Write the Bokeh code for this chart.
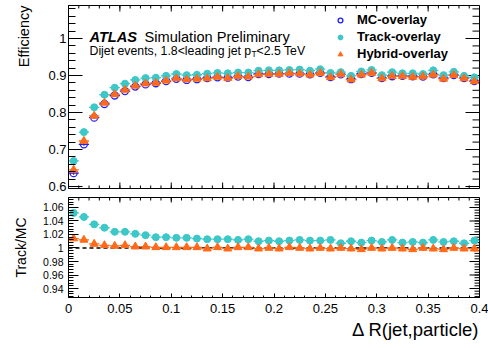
import math
from bokeh.plotting import figure
from bokeh.models import (Range1d, FixedTicker, LinearAxis, CustomJSTickFormatter, Label,
                          Legend, LegendItem, Span, ColumnDataSource, Title)
from bokeh.layouts import column
from bokeh.core.properties import value
from bokeh.embed import file_html
from bokeh.resources import INLINE

# ---------------- data ----------------
bin_centers = [0.005, 0.015, 0.025, 0.035, 0.045, 0.055, 0.065, 0.075, 0.085, 0.095,
               0.105, 0.115, 0.125, 0.135, 0.145, 0.155, 0.165, 0.175, 0.185, 0.195,
               0.205, 0.215, 0.225, 0.235, 0.245, 0.255, 0.265, 0.275, 0.285, 0.295,
               0.305, 0.315, 0.325, 0.335, 0.345, 0.355, 0.365, 0.375, 0.385, 0.395]
bin_half_width = 0.005

mc_eff = [0.636, 0.714, 0.786, 0.823, 0.846, 0.858, 0.870, 0.876, 0.879, 0.885,
          0.891, 0.888, 0.890, 0.893, 0.895, 0.894, 0.897, 0.896, 0.904, 0.904,
          0.905, 0.905, 0.905, 0.903, 0.907, 0.896, 0.903, 0.890, 0.904, 0.907,
          0.893, 0.898, 0.899, 0.898, 0.897, 0.903, 0.893, 0.901, 0.893, 0.885]
track_eff = [0.669, 0.747, 0.814, 0.848, 0.867, 0.878, 0.888, 0.893, 0.894, 0.899,
             0.904, 0.901, 0.902, 0.905, 0.907, 0.906, 0.908, 0.908, 0.913, 0.914,
             0.914, 0.915, 0.916, 0.913, 0.917, 0.907, 0.909, 0.899, 0.911, 0.915,
             0.901, 0.909, 0.906, 0.906, 0.904, 0.914, 0.901, 0.910, 0.899, 0.895]
hybrid_eff = [0.645, 0.723, 0.791, 0.826, 0.849, 0.861, 0.872, 0.878, 0.880, 0.886,
              0.892, 0.889, 0.891, 0.892, 0.896, 0.893, 0.898, 0.897, 0.903, 0.904,
              0.904, 0.906, 0.905, 0.902, 0.907, 0.895, 0.903, 0.889, 0.902, 0.907,
              0.892, 0.898, 0.898, 0.896, 0.897, 0.902, 0.891, 0.901, 0.892, 0.884]
eff_err = [0.004, 0.004, 0.003, 0.003, 0.003, 0.003, 0.003, 0.003, 0.003, 0.003,
           0.003, 0.003, 0.003, 0.003, 0.003, 0.003, 0.003, 0.003, 0.003, 0.003,
           0.003, 0.003, 0.003, 0.003, 0.003, 0.003, 0.003, 0.003, 0.003, 0.003,
           0.003, 0.003, 0.003, 0.003, 0.003, 0.003, 0.003, 0.003, 0.003, 0.003]

ratio_track = [1.052, 1.046, 1.035, 1.030, 1.024, 1.024, 1.021, 1.019, 1.016, 1.016,
               1.015, 1.015, 1.014, 1.013, 1.013, 1.013, 1.012, 1.013, 1.010, 1.011,
               1.010, 1.011, 1.012, 1.011, 1.011, 1.012, 1.007, 1.010, 1.008, 1.011,
               1.009, 1.012, 1.008, 1.009, 1.008, 1.012, 1.009, 1.010, 1.007, 1.011]
ratio_track_err = [0.002, 0.002, 0.002, 0.002, 0.002, 0.002, 0.002, 0.002, 0.002, 0.002,
                   0.002, 0.002, 0.002, 0.002, 0.002, 0.002, 0.002, 0.003, 0.003, 0.003,
                   0.003, 0.003, 0.003, 0.003, 0.003, 0.003, 0.003, 0.003, 0.003, 0.003,
                   0.003, 0.004, 0.004, 0.004, 0.004, 0.004, 0.004, 0.004, 0.004, 0.004]
ratio_hybrid = [1.014, 1.012, 1.006, 1.004, 1.003, 1.004, 1.002, 1.002, 1.001, 1.001,
                1.001, 1.001, 1.001, 0.999, 1.001, 0.999, 1.001, 1.001, 0.999, 1.000,
                0.999, 1.001, 1.000, 0.999, 1.000, 0.999, 1.000, 0.999, 0.998, 1.000,
                0.999, 1.000, 0.999, 0.998, 1.000, 0.999, 0.998, 1.000, 0.999, 0.999]
ratio_hybrid_err = [0.003, 0.003, 0.003, 0.003, 0.003, 0.003, 0.003, 0.003, 0.003, 0.003,
                    0.003, 0.003, 0.003, 0.003, 0.003, 0.003, 0.003, 0.003, 0.003, 0.003,
                    0.004, 0.004, 0.004, 0.004, 0.004, 0.004, 0.004, 0.004, 0.004, 0.004,
                    0.004, 0.004, 0.004, 0.004, 0.004, 0.004, 0.004, 0.004, 0.004, 0.005]

x_ticks = [0, 0.05, 0.1, 0.15, 0.2, 0.25, 0.3, 0.35, 0.4]
x_minor = [round(0.01 * i, 3) for i in range(41)]
top_y_ticks = [0.6, 0.7, 0.8, 0.9, 1.0]
top_y_minor = [round(0.58 + 0.02 * i, 3) for i in range(27)]
bot_y_ticks = [0.94, 0.96, 0.98, 1.0, 1.02, 1.04, 1.06]
bot_y_minor = [round(0.924 + 0.004 * i, 4) for i in range(40)]

MC_COLOR = "#1f1fff"
TRACK_COLOR = "#3cc8c8"
HYBRID_COLOR = "#ff6a1a"
FONT = "Liberation Sans"

X0, XR = 0.0, 0.4
TOP_Y = (0.5946, 1.0892)
BOT_Y = (0.92667, 1.07481)
XPX = 411 / 0.4          # pixels per x unit
TOP_PX = 370.0           # pixels per y unit, top panel
BOT_PX = 675.0           # pixels per y unit, ratio panel


def tx(px):
    return (px - 68) / XPX


def ty1(py):
    return TOP_Y[0] + (188 - py) / TOP_PX


fmt = "return tick.toString();"


def style_axis(ax, tin, tmin, size, standoff):
    ax.major_tick_in = tin
    ax.major_tick_out = 0
    ax.minor_tick_in = tmin
    ax.minor_tick_out = 0
    ax.axis_line_color = "black"
    ax.major_tick_line_color = "black"
    ax.minor_tick_line_color = "black"
    ax.major_label_text_font = FONT
    ax.major_label_text_color = "black"
    ax.major_label_text_font_size = size
    ax.major_label_standoff = standoff


def tick_marks(p, ticks, minor, orient, edge, length, mlength, px_per_unit):
    """Inward tick marks on the right ('right') or the top/bottom ('top'/'bottom') edges."""
    for tlist, L in ((ticks, length), (minor, mlength)):
        d = L / px_per_unit
        if orient == "right":
            src = dict(x0=[edge - d] * len(tlist), x1=[edge] * len(tlist), y0=tlist, y1=tlist)
        elif orient == "top":
            src = dict(x0=tlist, x1=tlist, y0=[edge - d] * len(tlist), y1=[edge] * len(tlist))
        else:
            src = dict(x0=tlist, x1=tlist, y0=[edge] * len(tlist), y1=[edge + d] * len(tlist))
        p.segment(x0="x0", y0="y0", x1="x1", y1="y1", source=ColumnDataSource(src),
                  line_color="black", line_width=1)


def err_sources(y, err):
    h = ColumnDataSource(dict(x0=[x - bin_half_width for x in bin_centers],
                              x1=[x + bin_half_width for x in bin_centers],
                              y=y))
    v = ColumnDataSource(dict(x=bin_centers,
                              y0=[a - e for a, e in zip(y, err)],
                              y1=[a + e for a, e in zip(y, err)]))
    return h, v


def draw_series(p, y, err, color, marker, filled):
    h, v = err_sources(y, err)
    p.segment(x0="x0", y0="y", x1="x1", y1="y", source=h, line_color=color, line_width=1.3)
    p.segment(x0="x", y0="y0", x1="x", y1="y1", source=v, line_color=color, line_width=1.3)
    if filled:
        r = p.scatter(bin_centers, y, marker=marker, size=8 if marker == "triangle" else 7,
                      fill_color=color, line_color=color, line_width=1)
    else:
        r = p.scatter(bin_centers, y, marker=marker, size=7, fill_color=None,
                      line_color=color, line_width=1.3)
    return r


# ---------------- top panel ----------------
p1 = figure(frame_width=411, frame_height=183, x_range=Range1d(X0, XR),
            y_range=Range1d(*TOP_Y), x_axis_type=None, y_axis_type=None,
            output_backend="svg", toolbar_location=None, title=None,
            min_border_left=68, min_border_right=9, min_border_top=5, min_border_bottom=7)
p1.outline_line_color = "black"
p1.background_fill_color = "white"

ax1 = LinearAxis(ticker=FixedTicker(ticks=top_y_ticks, minor_ticks=top_y_minor),
                 formatter=CustomJSTickFormatter(code=fmt))
style_axis(ax1, 14, 7, "13px", 2)
p1.add_layout(ax1, "left")
p1.add_layout(Title(text="Efficiency", align="right", vertical_align="top", text_font=FONT,
                    text_font_size="14.5px", text_font_style="normal", text_color="black",
                    standoff=23), "left")

tick_marks(p1, top_y_ticks, top_y_minor, "right", XR, 14, 7, XPX)
tick_marks(p1, x_ticks, x_minor, "top", TOP_Y[1], 6, 3, TOP_PX)
tick_marks(p1, x_ticks, x_minor, "bottom", TOP_Y[0], 6, 3, TOP_PX)

r_mc = draw_series(p1, mc_eff, eff_err, MC_COLOR, "circle", False)
r_tr = draw_series(p1, track_eff, eff_err, TRACK_COLOR, "circle", True)
r_hy = draw_series(p1, hybrid_eff, eff_err, HYBRID_COLOR, "triangle", True)

legend = Legend(items=[LegendItem(label=value("MC-overlay"), renderers=[r_mc]),
                       LegendItem(label=value("Track-overlay"), renderers=[r_tr]),
                       LegendItem(label=value("Hybrid-overlay"), renderers=[r_hy])],
                location=(266, 127), orientation="vertical",
                border_line_alpha=0, background_fill_alpha=0, padding=0, margin=0,
                spacing=2, label_height=14, glyph_height=14, glyph_width=12,
                label_standoff=11, label_text_font=FONT, label_text_font_style="bold",
                label_text_font_size="13px", label_text_color="black")
p1.add_layout(legend)

p1.add_layout(Label(x=tx(89), y=ty1(36), text="ATLAS", text_font=FONT,
                    text_font_style="bold italic", text_font_size="14.6px",
                    text_baseline="alphabetic", text_color="black"))
p1.add_layout(Label(x=tx(144), y=ty1(36), text="Simulation Preliminary", text_font=FONT,
                    text_font_size="14.6px", text_baseline="alphabetic", text_color="black"))
p1.add_layout(Label(x=tx(89), y=ty1(50), text="Dijet events, 1.8<leading jet p",
                    text_font=FONT, text_font_size="12.3px", text_baseline="alphabetic",
                    text_color="black"))
p1.add_layout(Label(x=tx(251), y=ty1(53), text="T", text_font=FONT, text_font_size="8.5px",
                    text_baseline="alphabetic", text_color="black"))
p1.add_layout(Label(x=tx(256), y=ty1(50), text="<2.5 TeV", text_font=FONT,
                    text_font_size="12.3px", text_baseline="alphabetic", text_color="black"))

# ---------------- ratio panel ----------------
p2 = figure(frame_width=411, frame_height=100, x_range=p1.x_range,
            y_range=Range1d(*BOT_Y), x_axis_type=None, y_axis_type=None,
            output_backend="svg", toolbar_location=None, title=None,
            min_border_left=68, min_border_right=9, min_border_top=2, min_border_bottom=48)
p2.outline_line_color = "black"

ax2y = LinearAxis(ticker=FixedTicker(ticks=bot_y_ticks, minor_ticks=bot_y_minor),
                  formatter=CustomJSTickFormatter(code=fmt))
style_axis(ax2y, 10, 5, "10.5px", 5)
p2.add_layout(ax2y, "left")
p2.add_layout(Title(text="Track/MC", align="center", vertical_align="top", text_font=FONT,
                    text_font_size="14px", text_font_style="normal", text_color="black",
                    standoff=19), "left")

ax2x = LinearAxis(ticker=FixedTicker(ticks=x_ticks, minor_ticks=x_minor),
                  formatter=CustomJSTickFormatter(code=fmt))
style_axis(ax2x, 4, 2, "13px", 6)
p2.add_layout(ax2x, "below")
p2.add_layout(Title(text="\u0394 R(jet,particle)", align="right", text_font=FONT,
                    text_font_size="18.5px", text_font_style="normal", text_color="black",
                    standoff=2), "below")

tick_marks(p2, bot_y_ticks, bot_y_minor, "right", XR, 10, 5, XPX)
tick_marks(p2, x_ticks, x_minor, "top", BOT_Y[1], 5, 3, BOT_PX)

p2.add_layout(Span(location=1.0, dimension="width", line_color="black", line_width=1.5,
                   line_dash="4 3", level="underlay"))
draw_series(p2, ratio_track, ratio_track_err, TRACK_COLOR, "circle", True)
draw_series(p2, ratio_hybrid, ratio_hybrid_err, HYBRID_COLOR, "triangle", True)

layout = column(p1, p2, spacing=0)
open("out.html", "w").write(file_html(layout, INLINE))
